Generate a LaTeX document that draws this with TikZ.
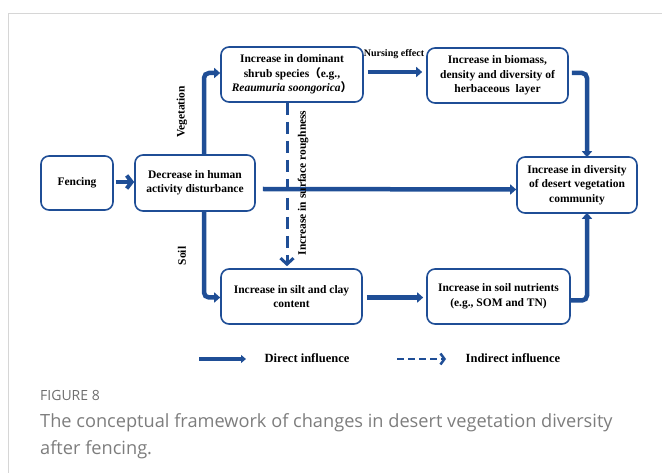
\documentclass[tikz,border=0pt]{standalone}
\usepackage{fontspec}
\setmainfont{Liberation Serif}
\newfontfamily\capfont{Open Sans}
\newfontfamily\cjk{Noto Sans CJK SC}
\usetikzlibrary{arrows.meta,calc}
\definecolor{fblue}{RGB}{31,78,150}
\definecolor{capgray}{RGB}{125,125,125}
\definecolor{figgray}{RGB}{110,110,110}
\definecolor{framegray}{RGB}{214,214,214}
\begin{document}
\begin{tikzpicture}[x=1pt,y=-1pt,
  box/.style={draw=fblue, line width=1.6pt, rounded corners=8pt, fill=white,
    align=center, inner sep=0pt, font=\fontsize{11.5}{14.5}\selectfont\bfseries},
  arr/.style={draw=fblue, line width=4.5pt, -{Triangle[length=6pt,width=10pt]}},
  elbow/.style={arr, rounded corners=5pt},
  dasharr/.style={draw=fblue, line width=3pt, dash pattern=on 12pt off 7pt,
    -{Straight Barb[length=6pt,width=13pt]}},
  lbl/.style={font=\fontsize{11.5}{14}\selectfont\bfseries, inner sep=0pt},
  leg/.style={font=\fontsize{12.5}{14}\selectfont\bfseries, inner sep=0pt}
]
\useasboundingbox (0,0) rectangle (662,473);
% frame
\draw[framegray, line width=1pt] (8,480) -- (8,14) -- (670,14);

% boxes
\node[box, minimum width=72pt, minimum height=54pt] (fence) at (77,183) {Fencing};
\node[box, minimum width=120pt, minimum height=56pt] (dec) at (195,183) {Decrease in human\\activity disturbance};
\node[box, minimum width=142pt, minimum height=55pt] (shrub) at (292,74.5)
  {Increase in dominant\\shrub species{\cjk （}e.g.,\\\textit{Reaumuria soongorica}{\cjk ）}};
\node[box, minimum width=141pt, minimum height=55pt] (bio) at (497.5,75.5)
  {Increase in biomass,\\density and diversity of\\herbaceous\ \ layer};
\node[box, minimum width=120pt, minimum height=56pt] (div) at (577,185)
  {Increase in diversity\\of desert vegetation\\community};
\node[box, minimum width=141pt, minimum height=55pt] (silt) at (291.5,296.5)
  {Increase in silt and clay\\content};
\node[box, minimum width=143pt, minimum height=55pt] (nut) at (498.5,296.5)
  {Increase in soil nutrients\\(e.g., SOM and TN)};

% dashed indirect arrow
\draw[dasharr] ([xshift=-5pt]shrub.south) -- ([xshift=-4.5pt,yshift=2pt]silt.north);

% connectors
\draw[fblue, line width=4pt, -{Straight Barb[length=5pt,width=13pt]}]
  ([xshift=2pt,yshift=1pt]fence.east) -- ([yshift=1pt]dec.west);
\draw[elbow] ([xshift=9pt]dec.north) |- ([yshift=1.5pt]shrub.west);
\draw[elbow] ([xshift=9pt]dec.south) |- ([yshift=-1pt]silt.west);
\draw[arr] ([xshift=7pt,yshift=-6pt]dec.east) -- ([yshift=-4.5pt]div.west);
\draw[arr] ([xshift=4pt,yshift=2.5pt]shrub.east) -- ([xshift=-4pt,yshift=3.5pt]bio.west);
\draw[arr] ([xshift=4pt,yshift=-1pt]silt.east) -- ([xshift=-3pt,yshift=-1pt]nut.west);
\draw[elbow] ([xshift=3pt,yshift=2.5pt]bio.east) -| ([xshift=10pt,yshift=-1pt]div.north);
\draw[elbow] ([xshift=0pt,yshift=-4pt]nut.east) -| ([xshift=10pt,yshift=1pt]div.south);

% labels
\node[lbl, rotate=90] (veg) at (182,112) {Vegetation};
\node[lbl, rotate=90] (soil) at (182,256) {Soil};
\node[lbl, rotate=90] (rough) at (303,183) {Increase in surface roughness};
\node[font=\fontsize{10}{12}\selectfont\bfseries, inner sep=0pt] (nurse) at (394,54) {Nursing effect};

% legend
\coordinate (l1a) at (199,359);
\coordinate (l1b) at (246,359);
\draw[draw=fblue, line width=4pt, -{Triangle[length=5pt,width=8pt]}] (l1a) -- (l1b);
\node[leg] (direct) at (307,358) {Direct influence};
\coordinate (l2a) at (397,359);
\coordinate (l2b) at (446,359);
\draw[draw=fblue, line width=2.5pt, dash pattern=on 7pt off 4pt, -{Straight Barb[length=4pt,width=11pt]}] (l2a) -- (l2b);
\node[leg] (indirect) at (513,358) {Indirect influence};

% caption
\node[anchor=base west, inner sep=0pt, text=figgray, font=\capfont\fontsize{14}{16}\selectfont] (fig) at (40,400) {FIGURE 8};
\node[anchor=base west, inner sep=0pt, text=capgray, font=\capfont\fontsize{18.2}{20}\selectfont] (cap1) at (40,428)
  {The conceptual framework of changes in desert vegetation diversity};
\node[anchor=base west, inner sep=0pt, text=capgray, font=\capfont\fontsize{18.2}{20}\selectfont] (cap2) at (40,454)
  {after fencing.};
\end{tikzpicture}
\end{document}
